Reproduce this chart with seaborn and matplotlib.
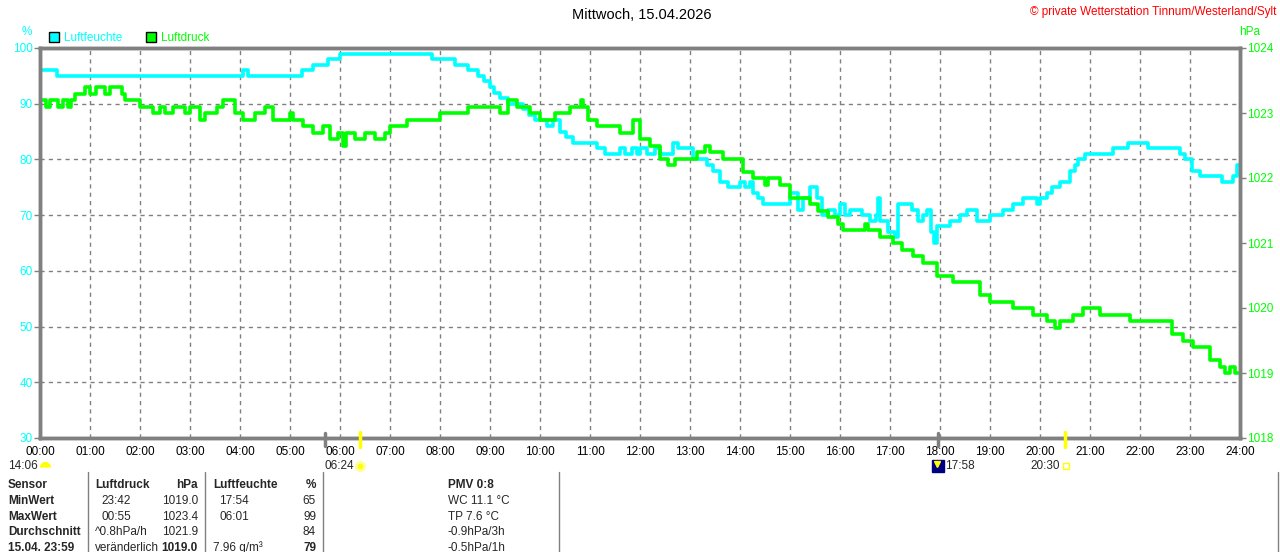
import matplotlib
matplotlib.use("Agg")
import matplotlib.pyplot as plt
import seaborn as sns
import pandas as pd
from matplotlib.patches import Patch
from matplotlib.lines import Line2D

sns.set_style("white")
plt.rcParams['font.family'] = ['Liberation Sans', 'DejaVu Sans']

CYAN = '#00FFFF'
GREEN = '#00FF00'
GRAY = '#808080'

# ── Data (hours since midnight, step values) ─────────────────────────────
hum_times = [0.00, 0.34, 4.06, 4.16, 5.24, 5.46, 5.76, 6.00, 7.84, 8.30,
             8.56, 8.76, 8.88, 9.00, 9.08, 9.20, 9.36, 9.66, 9.78, 9.90,
             10.14, 10.26, 10.40, 10.52, 10.66, 11.14, 11.30, 11.60, 11.70, 11.84,
             11.94, 12.00, 12.14, 12.30, 12.40, 12.66, 12.76, 13.06, 13.34, 13.46,
             13.60, 13.76, 14.00, 14.10, 14.20, 14.26, 14.36, 14.46, 15.00, 15.16,
             15.26, 15.40, 15.54, 15.64, 15.76, 15.90, 16.00, 16.10, 16.20, 16.44,
             16.60, 16.72, 16.76, 16.80, 16.96, 17.10, 17.16, 17.44, 17.56, 17.66,
             17.74, 17.82, 17.88, 17.94, 18.10, 18.20, 18.40, 18.54, 18.74, 19.00,
             19.26, 19.46, 19.66, 19.94, 20.00, 20.14, 20.24, 20.40, 20.60, 20.70,
             20.76, 20.90, 21.46, 21.76, 22.16, 22.80, 22.90, 23.04, 23.20, 23.64,
             23.86, 23.94, 24.00]
hum_values = [96, 95, 96, 95, 96, 97, 98, 99, 98, 97,
              96, 95, 94, 93, 92, 91, 90, 89, 88, 87,
              86, 87, 85, 84, 83, 82, 81, 82, 81, 82,
              81, 82, 81, 82, 81, 83, 82, 80, 79, 78,
              76, 75, 76, 75, 76, 74, 73, 72, 74, 71,
              73, 75, 73, 70, 71, 70, 72, 70, 71, 70,
              69, 70, 73, 69, 67, 66, 72, 71, 69, 70,
              71, 67, 65, 68, 68, 69, 70, 71, 69, 70,
              71, 72, 73, 72, 73, 74, 75, 76, 78, 79,
              80, 81, 82, 83, 82, 81, 80, 78, 77, 76,
              77, 79, 79]

press_times = [0.00, 0.12, 0.20, 0.36, 0.46, 0.56, 0.62, 0.70, 0.90, 1.00,
               1.12, 1.30, 1.40, 1.64, 1.70, 2.00, 2.26, 2.40, 2.50, 2.66,
               2.90, 3.00, 3.20, 3.30, 3.54, 3.66, 3.90, 4.06, 4.30, 4.50,
               4.66, 5.00, 5.06, 5.26, 5.46, 5.66, 5.80, 5.96, 6.06, 6.12,
               6.30, 6.50, 6.70, 6.90, 7.00, 7.34, 8.00, 8.56, 9.20, 9.36,
               9.54, 9.80, 10.00, 10.30, 10.60, 10.82, 10.86, 10.96, 11.14, 11.60,
               11.86, 12.00, 12.20, 12.40, 12.56, 12.70, 13.14, 13.30, 13.40, 13.66,
               14.06, 14.26, 14.50, 14.56, 14.80, 15.00, 15.40, 15.56, 15.76, 15.96,
               16.06, 16.50, 16.56, 16.80, 17.06, 17.24, 17.46, 17.66, 17.94, 18.26,
               18.80, 19.00, 19.46, 19.86, 20.14, 20.30, 20.40, 20.66, 20.86, 21.20,
               21.80, 22.64, 22.86, 23.06, 23.40, 23.60, 23.70, 23.80, 23.90, 24.00]
press_values = [1023.2, 1023.1, 1023.2, 1023.1, 1023.2, 1023.1, 1023.2, 1023.3, 1023.4, 1023.3,
                1023.4, 1023.3, 1023.4, 1023.3, 1023.2, 1023.1, 1023.0, 1023.1, 1023.0, 1023.1,
                1023.0, 1023.1, 1022.9, 1023.0, 1023.1, 1023.2, 1023.0, 1022.9, 1023.0, 1023.1,
                1022.9, 1023.0, 1022.9, 1022.8, 1022.7, 1022.8, 1022.6, 1022.7, 1022.5, 1022.7,
                1022.6, 1022.7, 1022.6, 1022.7, 1022.8, 1022.9, 1023.0, 1023.1, 1023.0, 1023.2,
                1023.1, 1023.0, 1022.9, 1023.0, 1023.1, 1023.2, 1023.1, 1022.9, 1022.8, 1022.7,
                1022.9, 1022.6, 1022.5, 1022.3, 1022.2, 1022.3, 1022.4, 1022.5, 1022.4, 1022.3,
                1022.1, 1022.0, 1021.9, 1022.0, 1021.9, 1021.7, 1021.6, 1021.5, 1021.4, 1021.3,
                1021.2, 1021.3, 1021.2, 1021.1, 1021.0, 1020.9, 1020.8, 1020.7, 1020.5, 1020.4,
                1020.2, 1020.1, 1020.0, 1019.9, 1019.8, 1019.7, 1019.8, 1019.9, 1020.0, 1019.9,
                1019.8, 1019.6, 1019.5, 1019.4, 1019.2, 1019.1, 1019.0, 1019.1, 1019.0, 1019.0]

hour_ticks = list(range(25))
hour_labels = [f'{h:02d}:00' for h in hour_ticks]
hum_ticks = [30, 40, 50, 60, 70, 80, 90, 100]
press_ticks = [1018, 1019, 1020, 1021, 1022, 1023, 1024]

table_header = ['Sensor', 'Luftdruck', 'hPa', 'Luftfeuchte', '%', 'PMV 0:8']
table_rows = [
    ['MinWert', '23:42', '1019.0', '17:54', '65', 'WC 11.1 °C'],
    ['MaxWert', '00:55', '1023.4', '06:01', '99', 'TP 7.6 °C'],
    ['Durchschnitt', '^0.8hPa/h', '1021.9', '', '84', '-0.9hPa/3h'],
    ['15.04. 23:59', 'veränderlich', '1019.0', '7.96 g/m³', '79', '-0.5hPa/1h'],
]

W, H = 1280, 552


def fx(x):
    return x / W


def fy(y):
    return 1 - y / H


# ── Figure ────────────────────────────────────────────────────────────────
fig = plt.figure(figsize=(12.8, 5.52), dpi=100)
ax = fig.add_axes([fx(40), fy(438), 1200 / W, 390 / H])
ax2 = ax.twinx()

hum = pd.DataFrame({'t': hum_times, 'v': hum_values})
press = pd.DataFrame({'t': press_times, 'v': press_values})

sns.lineplot(data=hum, x='t', y='v', ax=ax, color=CYAN, linewidth=2.6,
             drawstyle='steps-post', estimator=None, sort=False)
sns.lineplot(data=press, x='t', y='v', ax=ax2, color=GREEN, linewidth=2.6,
             drawstyle='steps-post', estimator=None, sort=False)

ax.set_xlim(0, 24)
ax.set_ylim(30, 100)
ax2.set_ylim(1018, 1024)
ax.set_xlabel('')
ax.set_ylabel('')
ax2.set_ylabel('')

ax.set_xticks(hour_ticks)
ax.set_xticklabels(hour_labels, fontsize=8.5, color='black')
ax.set_yticks(hum_ticks)
ax.set_yticklabels([str(v) for v in hum_ticks], fontsize=8.5, color=CYAN)
ax2.set_yticks(press_ticks)
ax2.set_yticklabels([str(v) for v in press_ticks], fontsize=8.5, color=GREEN)

for a in (ax, ax2):
    a.tick_params(axis='both', length=4, width=1, color=GRAY, pad=1)
    for s in a.spines.values():
        s.set_color(GRAY)
        s.set_linewidth(2.5)
ax.tick_params(axis='x', pad=2)

ax.grid(True, color=GRAY, linestyle=(0, (3, 3)), linewidth=1)
ax.set_axisbelow(True)

# unit labels and legend
fig.text(fx(27), fy(32), '%', color=CYAN, fontsize=8.5, ha='center', va='center')
fig.text(fx(1250), fy(32), 'hPa', color=GREEN, fontsize=8.5, ha='center', va='center')
fig.text(fx(642), fy(15), 'Mittwoch, 15.04.2026', color='black', fontsize=10.5,
         ha='center', va='center')
fig.text(fx(1276), fy(12), '© private Wetterstation Tinnum/Westerland/Sylt',
         color='red', fontsize=8.5, ha='right', va='center')

handles = [Patch(facecolor=CYAN, edgecolor='black', linewidth=1),
           Patch(facecolor=GREEN, edgecolor='black', linewidth=1)]
fig.legend(handles, ['Luftfeuchte', 'Luftdruck'], loc='center left',
           bbox_to_anchor=(fx(38), fy(38)), ncol=2, frameon=False,
           fontsize=8.5, labelcolor=[CYAN, GREEN], handlelength=0.9,
           handleheight=0.9, handletextpad=0.4, columnspacing=2.0)

# sun / moon markers at the time axis
for xp, col in [(325, GRAY), (938, GRAY)]:
    fig.add_artist(Line2D([fx(xp), fx(xp)], [fy(433), fy(446)], color=col, lw=2.5))
for xp in (360, 1065):
    fig.add_artist(Line2D([fx(xp), fx(xp)], [fy(432), fy(447)], color='#FFFF00', lw=2.5))

ANN_Y = 466
fig.text(fx(38), fy(ANN_Y), '14:06', fontsize=8.5, ha='right', va='center')
fig.add_artist(Line2D([fx(45)], [fy(ANN_Y + 1)], marker='o', markersize=8, fillstyle='top',
                      markerfacecolor='#FFFF00', markerfacecoloralt='none',
                      markeredgecolor='none'))
fig.text(fx(354), fy(ANN_Y), '06:24', fontsize=8.5, ha='right', va='center')
fig.add_artist(Line2D([fx(360)], [fy(ANN_Y)], marker='o', markersize=6,
                      markerfacecolor='#FFFF00', markeredgecolor='#FFFF99',
                      markeredgewidth=2))
fig.add_artist(Line2D([fx(938)], [fy(ANN_Y)], marker='s', markersize=8,
                      markerfacecolor='#000080', markeredgecolor='#000080'))
fig.add_artist(Line2D([fx(937)], [fy(ANN_Y - 2)], marker='v', markersize=4,
                      markerfacecolor='#FFFF00', markeredgecolor='#FFFF00'))
fig.text(fx(945), fy(ANN_Y), '17:58', fontsize=8.5, ha='left', va='center')
fig.text(fx(1060), fy(ANN_Y), '20:30', fontsize=8.5, ha='right', va='center')
fig.add_artist(Line2D([fx(1066)], [fy(ANN_Y)], marker='s', markersize=4,
                      markerfacecolor='none', markeredgecolor='#FFFF00'))

# ── Summary table ─────────────────────────────────────────────────────────
for xp in (88, 205, 323, 559, 1278):
    fig.add_artist(Line2D([fx(xp), fx(xp)], [fy(472), 0], color=GRAY, lw=1))

col_x = [8, 95, 198, 213, 316, 448]
col_ha = ['left', 'left', 'right', 'left', 'right', 'left']
row_y = [485, 501, 517, 532, 548]

for i, txt in enumerate(table_header):
    fig.text(fx(col_x[i]), fy(row_y[0]), txt, fontsize=8.5, fontweight='bold',
             ha=col_ha[i], va='center')

for r, row in enumerate(table_rows):
    y = row_y[r + 1]
    last = r == len(table_rows) - 1
    for i, txt in enumerate(row):
        x = col_x[i]
        if i in (1, 3) and r < 2:
            x += 6
        bold = i == 0 or (last and i in (2, 4))
        fig.text(fx(x), fy(y), txt, fontsize=8.5,
                 fontweight='bold' if bold else 'normal',
                 ha=col_ha[i], va='center')

plt.savefig('out.png', dpi=100)
plt.close()
